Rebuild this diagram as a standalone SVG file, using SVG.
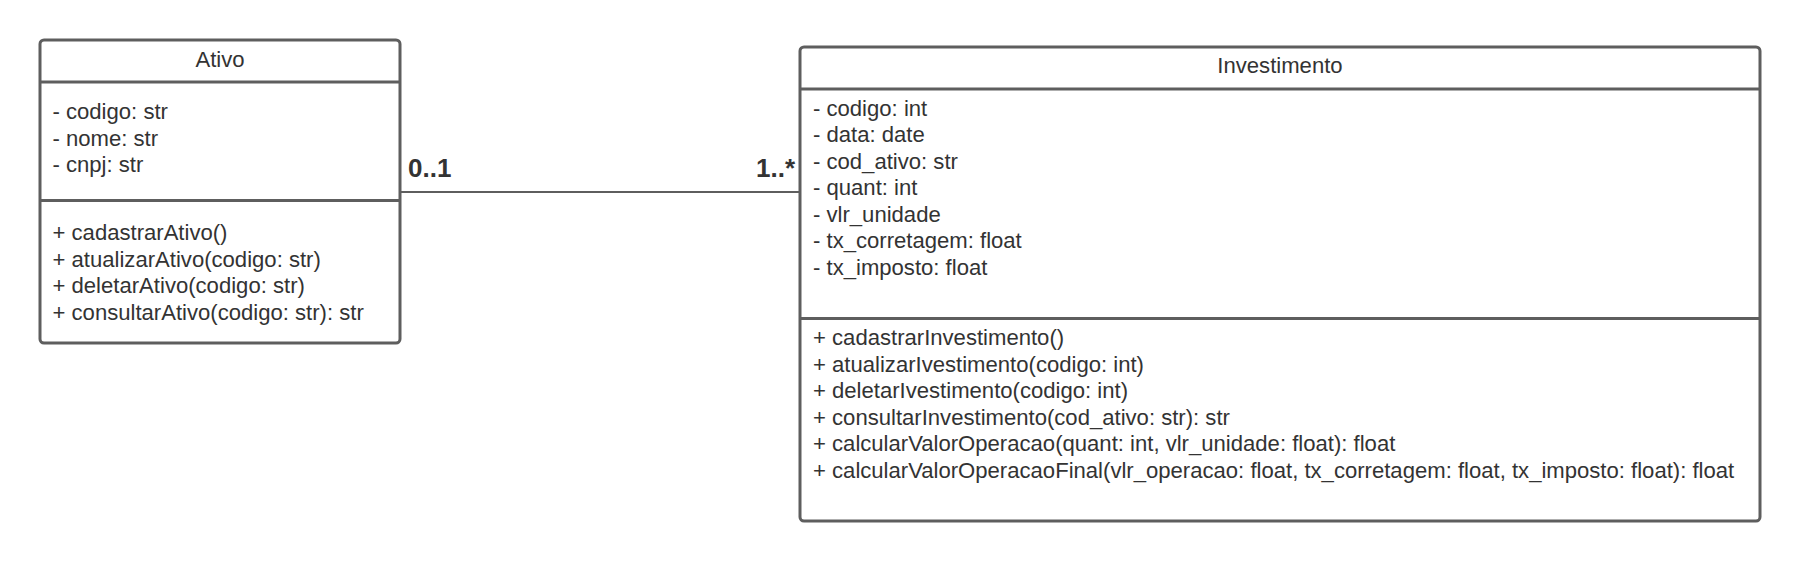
<svg xmlns="http://www.w3.org/2000/svg" width="1800" height="562" viewBox="0 0 1800 562">
<style>
.box{fill:#ffffff;stroke:#5e5e5e;stroke-width:3}
.div{stroke:#5e5e5e;stroke-width:3}
.t{font-family:"Liberation Sans",Arial,sans-serif;font-size:22.1px;fill:#333333}
.c{text-anchor:middle}
.m{font-family:"Liberation Sans",Arial,sans-serif;font-size:26px;font-weight:bold;fill:#333333}
.conn{stroke:#5e5e5e;stroke-width:2;fill:none}
</style>
<rect width="1800" height="562" fill="#ffffff"/>
<g id="connectors">
<line class="conn" x1="400" y1="192" x2="800" y2="192"/>
<text class="m" x="408" y="177">0..1</text>
<text class="m" x="795" y="177" text-anchor="end">1..*</text>
</g>
<g id="ativo">
<rect class="box" x="40" y="40" width="360" height="303" rx="4"/>
<line class="div" x1="40" y1="82" x2="400" y2="82"/>
<line class="div" x1="40" y1="200.5" x2="400" y2="200.5"/>
<text class="t c" x="220" y="66.7">Ativo</text>
<text class="t" x="52.5" y="119">- codigo: str</text>
<text class="t" x="52.5" y="145.5">- nome: str</text>
<text class="t" x="52.5" y="172">- cnpj: str</text>
<text class="t" x="52.5" y="240">+ cadastrarAtivo()</text>
<text class="t" x="52.5" y="266.5">+ atualizarAtivo(codigo: str)</text>
<text class="t" x="52.5" y="293">+ deletarAtivo(codigo: str)</text>
<text class="t" x="52.5" y="319.5">+ consultarAtivo(codigo: str): str</text>
</g>
<g id="investimento">
<rect class="box" x="800" y="47" width="960" height="474" rx="4"/>
<line class="div" x1="800" y1="89" x2="1760" y2="89"/>
<line class="div" x1="800" y1="318.5" x2="1760" y2="318.5"/>
<text class="t c" x="1280" y="73.3">Investimento</text>
<text class="t" x="813" y="115.7">- codigo: int</text>
<text class="t" x="813" y="142.3">- data: date</text>
<text class="t" x="813" y="168.8">- cod_ativo: str</text>
<text class="t" x="813" y="195.3">- quant: int</text>
<text class="t" x="813" y="221.8">- vlr_unidade</text>
<text class="t" x="813" y="248.3">- tx_corretagem: float</text>
<text class="t" x="813" y="274.9">- tx_imposto: float</text>
<text class="t" x="813" y="345">+ cadastrarInvestimento()</text>
<text class="t" x="813" y="371.5">+ atualizarIvestimento(codigo: int)</text>
<text class="t" x="813" y="398">+ deletarIvestimento(codigo: int)</text>
<text class="t" x="813" y="424.5">+ consultarInvestimento(cod_ativo: str): str</text>
<text class="t" x="813" y="451">+ calcularValorOperacao(quant: int, vlr_unidade: float): float</text>
<text class="t" x="813" y="477.5">+ calcularValorOperacaoFinal(vlr_operacao: float, tx_corretagem: float, tx_imposto: float): float</text>
</g>
</svg>
